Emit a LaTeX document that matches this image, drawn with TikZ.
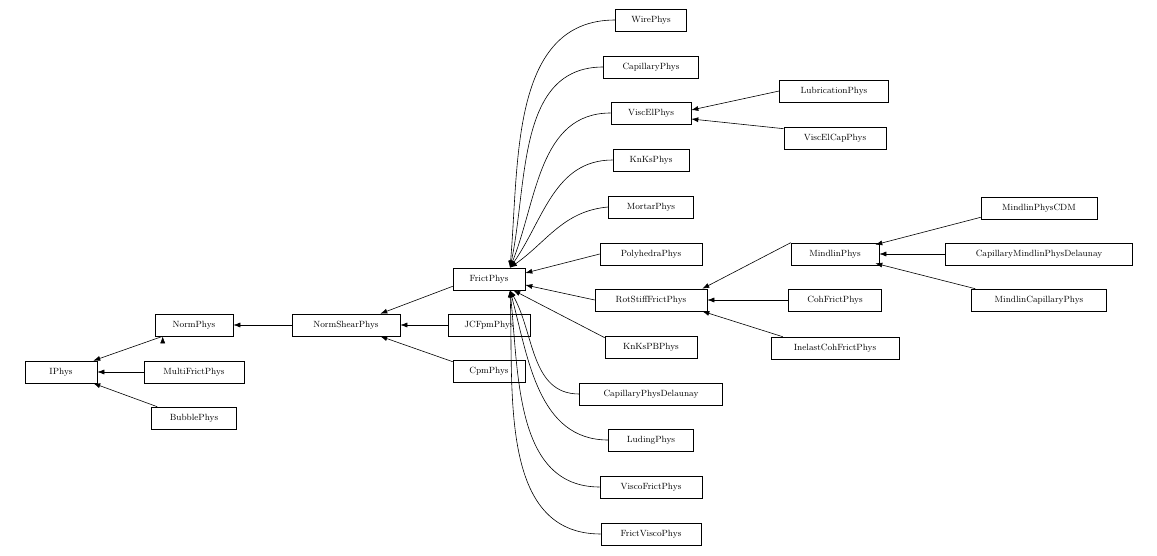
\documentclass[tikz,border=0pt]{standalone}
\usetikzlibrary{arrows.meta,calc}
\begin{document}
\begin{tikzpicture}[x=1pt,y=1pt,
  box/.style={draw,line width=0.6pt,minimum height=22pt,inner sep=2pt,font=\fontsize{9}{10}\selectfont},
  edge/.style={line width=0.6pt,-{Latex[length=7pt,width=5pt]}}]
\useasboundingbox (0,0) rectangle (1157,-556);
\newcommand\nd[4]{\node[box,minimum width=#4] (#1) at (#2,-#3) {#1};}
\nd{IPhys}{61}{372}{72}
\nd{NormPhys}{194}{325}{78}
\nd{MultiFrictPhys}{194}{372}{100}
\nd{BubblePhys}{194}{418}{85}
\nd{NormShearPhys}{346}{325}{108}
\nd{JCFpmPhys}{489}{325}{82}
\nd{CpmPhys}{489}{371}{72}
\nd{FrictPhys}{489}{279}{72}
\nd{WirePhys}{651}{20}{71}
\nd{CapillaryPhys}{651}{67}{95}
\nd{ViscElPhys}{651}{113}{80}
\nd{KnKsPhys}{651}{160}{76}
\nd{MortarPhys}{651}{207}{85}
\nd{PolyhedraPhys}{651}{254}{102}
\nd{RotStiffFrictPhys}{651}{300}{112}
\nd{KnKsPBPhys}{651}{347}{92}
\nd{CapillaryPhysDelaunay}{651}{394}{143}
\nd{LudingPhys}{651}{440}{85}
\nd{ViscoFrictPhys}{651}{487}{102}
\nd{FrictViscoPhys}{651}{534}{100}
\nd{LubricationPhys}{834}{91}{109}
\nd{ViscElCapPhys}{835}{138}{102}
\nd{MindlinPhys}{835}{254}{88}
\nd{CohFrictPhys}{835}{300}{93}
\nd{InelastCohFrictPhys}{835}{348}{128}
\nd{MindlinPhysCDM}{1039}{208}{116}
\nd{CapillaryMindlinPhysDelaunay}{1039}{254}{187}
\nd{MindlinCapillaryPhys}{1039}{300}{135}
% straight edges
\draw[edge] (NormPhys.south west) ++(8,0) coordinate (a0);
\draw[edge] ($(NormPhys.south west)+(8,0)$) -- ($(IPhys.north east)+(-4,0)$);
\draw[edge] (MultiFrictPhys.west) -- (IPhys.east);
\draw[edge] ($(BubblePhys.north west)+(6,0)$) -- ($(IPhys.south east)+(-4,0)$);
\draw[edge] (NormShearPhys.west) -- (NormPhys.east);
\draw[edge] ($(FrictPhys.south west)+(0,4)$) -- ($(NormShearPhys.north east)+(-20,0)$);
\draw[edge] (JCFpmPhys.west) -- (NormShearPhys.east);
\draw[edge] ($(CpmPhys.north west)+(0,-2)$) -- ($(NormShearPhys.south east)+(-20,0)$);
\draw[edge] (PolyhedraPhys.west) -- ($(FrictPhys.east)+(0,6)$);
\draw[edge] (RotStiffFrictPhys.west) -- ($(FrictPhys.east)+(0,-6)$);
\draw[edge] ($(KnKsPBPhys.north west)+(0,-2)$) -- ($(FrictPhys.south east)+(-12,0)$);
\draw[edge] (LubricationPhys.west) -- ($(ViscElPhys.east)+(0,3)$);
\draw[edge] ($(ViscElCapPhys.north west)+(0,-2)$) -- ($(ViscElPhys.east)+(0,-6)$);
\draw[edge] (MindlinPhys.north west) -- ($(RotStiffFrictPhys.north east)+(-5,0)$);
\draw[edge] (CohFrictPhys.west) -- (RotStiffFrictPhys.east);
\draw[edge] ($(InelastCohFrictPhys.north west)+(12,0)$) -- ($(RotStiffFrictPhys.south east)+(-5,0)$);
\draw[edge] ($(MindlinPhysCDM.south west)+(0,2)$) -- ($(MindlinPhys.north east)+(-4,-2)$);
\draw[edge] (CapillaryMindlinPhysDelaunay.west) -- (MindlinPhys.east);
\draw[edge] ($(MindlinCapillaryPhys.north west)+(4,0)$) -- ($(MindlinPhys.south east)+(-4,2)$);
% curved edges into FrictPhys
\coordinate (ft) at ($(FrictPhys.north)+(21,0)$);
\coordinate (fb) at ($(FrictPhys.south)+(21,0)$);
\draw[edge] (WirePhys.west) to[out=180,in=85] (ft);
\draw[edge] (CapillaryPhys.west) to[out=180,in=78] (ft);
\draw[edge] (ViscElPhys.west) to[out=180,in=68] (ft);
\draw[edge] (KnKsPhys.west) to[out=180,in=55] (ft);
\draw[edge] (MortarPhys.west) to[out=185,in=35] (ft);
\draw[edge] (CapillaryPhysDelaunay.west) to[out=180,in=-60] (fb);
\draw[edge] (LudingPhys.west) to[out=180,in=-75] (fb);
\draw[edge] (ViscoFrictPhys.west) to[out=180,in=-84] (fb);
\draw[edge] (FrictViscoPhys.west) to[out=180,in=-88] (fb);
\end{tikzpicture}
\end{document}
